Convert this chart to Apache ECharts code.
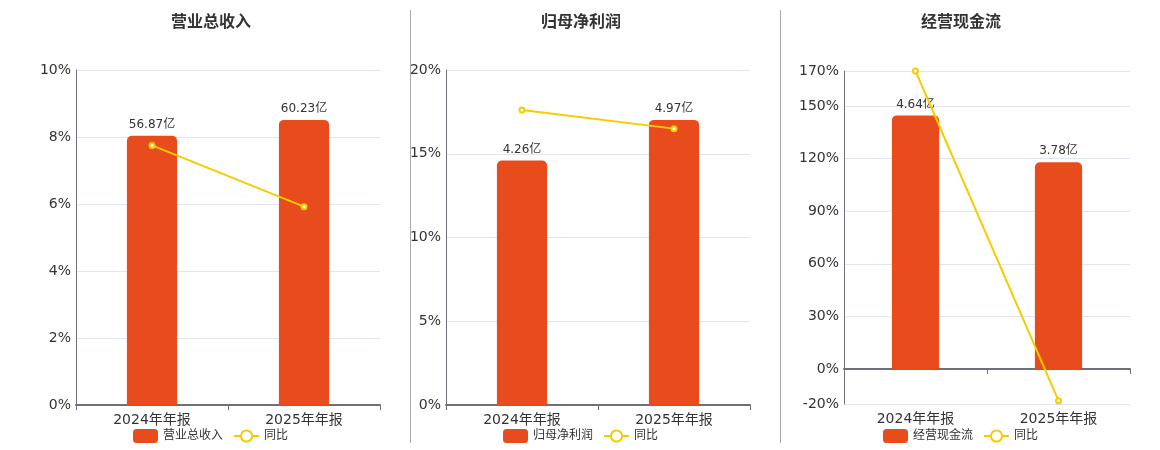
<!DOCTYPE html>
<html>
<head>
<meta charset="utf-8">
<script src="https://cdn.jsdelivr.net/npm/echarts@6/dist/echarts.min.js"></script>
<style>
html,body{margin:0;padding:0;background:#fff;}
#main{width:1160px;height:450px;}
</style>
</head>
<body>
<div id="main"></div>
<script>
const categories = ['2024年年报', '2025年年报'];
const titles = ['营业总收入', '归母净利润', '经营现金流'];
const revenue = [56.87, 60.23];
const revenueYoY = [7.75, 5.92];
const profit = [4.26, 4.97];
const profitYoY = [17.61, 16.50];
const cashflow = [4.64, 3.78];
const cashflowYoY = [170.0, -18.1];
const pctMin = [0, 0, -20];
const pctMax = [10, 20, 170];
const pctTicks = [
  [0, 2, 4, 6, 8, 10],
  [0, 5, 10, 15, 20],
  [-20, 0, 30, 60, 90, 120, 150, 170]
];

const FONT = "'DejaVu Sans', 'Noto Sans CJK SC', sans-serif";
const BAR_COLOR = '#e84c1c';
const LINE_COLOR = '#f5cc00';

const panels = [
  { bars: revenue, yoy: revenueYoY },
  { bars: profit, yoy: profitYoY },
  { bars: cashflow, yoy: cashflowYoY }
];
const grids = [
  { left: 76, top: 70, width: 304, height: 335 },
  { left: 446, top: 70, width: 304, height: 335 },
  { left: 844, top: 71, width: 286, height: 333 }
];
const titleLeft = [166, 536, 916];
const legendLeft = [128, 498, 878];

const option = {
  animation: false,
  textStyle: { fontFamily: FONT },
  title: [], legend: [], grid: [], xAxis: [], yAxis: [], series: [],
  graphic: [
    { type: 'line', shape: { x1: 410.5, y1: 10, x2: 410.5, y2: 443 }, style: { stroke: '#aaaaaa', lineWidth: 1 } },
    { type: 'line', shape: { x1: 780.5, y1: 10, x2: 780.5, y2: 443 }, style: { stroke: '#aaaaaa', lineWidth: 1 } }
  ]
};

panels.forEach((p, i) => {
  option.title.push({
    text: titles[i], left: titleLeft[i], top: 10,
    textStyle: { fontSize: 16, fontWeight: 'bold', color: '#333', fontFamily: FONT }
  });
  option.legend.push({
    left: legendLeft[i], top: 424, itemWidth: 25, itemHeight: 14, itemGap: 10,
    textStyle: { fontSize: 12, color: '#333', fontFamily: FONT },
    data: [
      { name: titles[i], icon: 'roundRect' },
      { name: '同比' + '\u200b'.repeat(i) }
    ]
  });
  option.grid.push(Object.assign({ containLabel: false }, grids[i]));
  option.xAxis.push({
    type: 'category', gridIndex: i, data: categories, position: 'bottom',
    axisLine: { show: true, onZero: true, lineStyle: { color: '#6e7079', width: 2 } },
    axisTick: { show: true, lineStyle: { color: '#6e7079' } },
    axisLabel: { show: false }
  });
  option.xAxis.push({
    type: 'category', gridIndex: i, data: categories, position: 'bottom',
    axisLine: { show: false, onZero: false },
    axisTick: { show: false },
    axisLabel: { show: true, fontSize: 14, color: '#333', margin: 8, fontFamily: FONT }
  });
  const maxBar = Math.max.apply(null, p.bars);
  const barMax = maxBar * 1.175;
  const barMin = pctMin[i] < 0 ? barMax * pctMin[i] / pctMax[i] : 0;
  option.yAxis.push({
    type: 'value', gridIndex: i, min: pctMin[i], max: pctMax[i],
    axisLine: { show: true, lineStyle: { color: '#6e7079', width: 1 } },
    axisTick: { show: false, customValues: pctTicks[i] },
    axisLabel: { fontSize: 14, color: '#333', margin: 5, formatter: '{value}%', fontFamily: FONT, customValues: pctTicks[i] },
    splitLine: { show: true, lineStyle: { color: '#e0e6f1' } }
  });
  option.yAxis.push({
    type: 'value', gridIndex: i, min: barMin, max: barMax, show: false,
    splitLine: { show: false }
  });
  option.series.push({
    name: titles[i], type: 'bar', xAxisIndex: i * 2, yAxisIndex: i * 2 + 1,
    data: p.bars, barWidth: '33%',
    itemStyle: { color: BAR_COLOR, borderRadius: [5, 5, 0, 0] },
    label: { show: true, position: 'top', fontSize: 12, color: '#333', formatter: '{c}亿', fontFamily: FONT }
  });
  option.series.push({
    name: '同比' + '\u200b'.repeat(i), type: 'line', xAxisIndex: i * 2, yAxisIndex: i * 2,
    data: p.yoy, symbol: 'emptyCircle', symbolSize: 5,
    lineStyle: { color: LINE_COLOR, width: 2 },
    itemStyle: { color: LINE_COLOR, borderWidth: 1.5 },
    z: 5
  });
});

const chart = echarts.init(document.getElementById('main'));
chart.setOption(option);
</script>
</body>
</html>
